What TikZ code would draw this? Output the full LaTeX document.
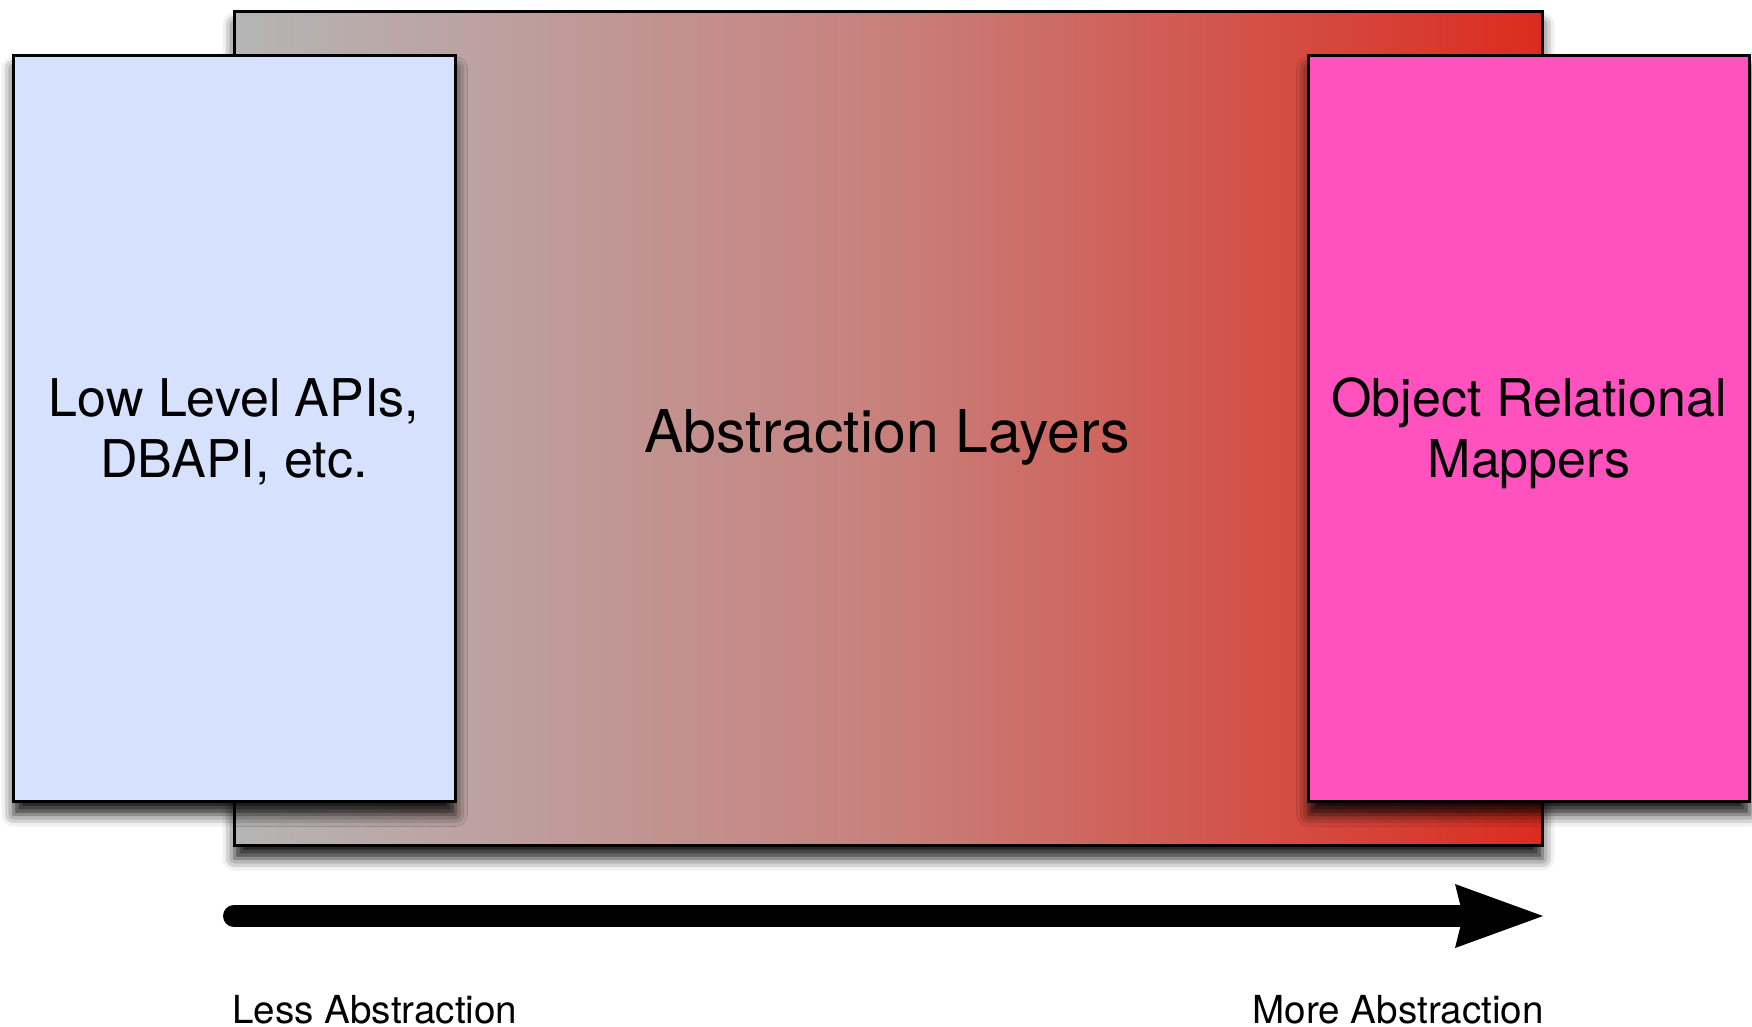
\documentclass[tikz,border=0pt]{standalone}
\usepackage{fontspec}
\setmainfont{TeX Gyre Heros}
\usetikzlibrary{shadows.blur,arrows.meta}
\definecolor{lowblue}{RGB}{213,225,253}
\definecolor{ormpink}{RGB}{255,82,190}
\definecolor{gradleft}{RGB}{181,181,181}
\definecolor{gradmid}{RGB}{200,128,124}
\definecolor{gradright}{RGB}{219,44,30}
\tikzset{
  panel/.style={draw=black, line width=3pt, inner sep=0pt, outer sep=0pt,
    blur shadow={shadow xshift=0pt, shadow yshift=-13pt, shadow blur radius=12pt, shadow opacity=90}},
  biglbl/.style={font=\fontsize{52}{61}\selectfont, align=center, inner sep=0pt, text=black},
  smalllbl/.style={font=\fontsize{38.6}{42}\selectfont, inner sep=0pt, text=black},
  bigarrow/.style={line width=22pt, line cap=round,
    -{Stealth[length=88pt, width=64pt, inset=8pt, line width=0pt]}}
}
\begin{document}
\begin{tikzpicture}[x=1pt,y=-1pt]
\useasboundingbox (0,0) rectangle (1752,1026);
\node[panel, shading=axis, left color=gradleft, right color=gradright, middle color=gradmid,
  minimum width=1308pt, minimum height=834pt] (layers) at (888.5,428.5) {};
\node[panel, fill=lowblue, minimum width=442pt, minimum height=746pt] (low) at (234.5,428.5) {};
\node[panel, fill=ormpink, minimum width=441pt, minimum height=746pt] (orm) at (1529,428.5) {};
\node[biglbl] (lowtxt) at (234,432) {Low Level APIs,\\DBAPI, etc.};
\node[biglbl, font=\fontsize{59}{64}\selectfont, anchor=base] (layerstxt) at (887,452) {Abstraction Layers};
\node[biglbl] (ormtxt) at (1529,433) {Object Relational\\Mappers};
\coordinate (arrowstart) at (234,916);
\coordinate (arrowtip) at (1543,916);
\draw[bigarrow] (arrowstart) -- (arrowtip);
\node[smalllbl, anchor=base west] (lesstxt) at (232,1023) {Less Abstraction};
\node[smalllbl, anchor=base east] (moretxt) at (1544,1023) {More Abstraction};
\end{tikzpicture}
\end{document}
